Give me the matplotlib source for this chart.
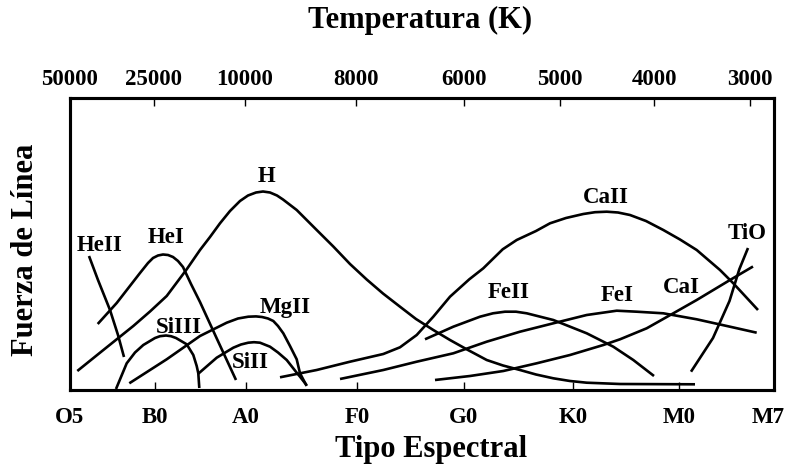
import numpy as np
import matplotlib
matplotlib.use("Agg")
import matplotlib.pyplot as plt
from matplotlib.transforms import ScaledTranslation

plt.rcParams['font.family'] = ['Liberation Serif', 'DejaVu Serif']
plt.rcParams['font.weight'] = 'bold'

# espectral (eje inferior) y temperatura (eje superior)
tipos = ["O5", "B0", "A0", "F0", "G0", "K0", "M0", "M7"]
tipos_pos = [0, 85, 176, 287, 394, 503, 609, 704]
temps = ["50000", "25000", "10000", "8000", "6000", "5000", "4000", "3000"]
temps_pos = [0, 84, 175, 286, 394, 490, 584, 680]

# curvas de fuerza de linea
heii_x = [19, 28, 40, 48, 54]
heii_y = [134, 110, 80, 55, 33]

hei_x = [27.7, 46.7, 70, 78, 83, 88, 93, 98, 103, 108, 113, 121, 130, 147, 166]
hei_y = [66, 87, 117, 127, 132, 134.5, 135.5, 135, 133, 129, 123, 106, 88, 51, 10]

h_x = [7.3, 30, 63.3, 80, 96.7, 116.7, 130, 140, 150, 160, 170, 178, 186, 193,
       200, 207, 213, 226.7, 246.7, 263.3, 280, 296.7, 313, 330, 346, 363.3,
       380, 396.7, 416.7, 433, 450, 466, 483.3, 500, 516.7, 550, 625]
h_y = [19, 37.3, 64, 78.5, 94, 120.7, 140, 153, 166.7, 179, 189, 194.5, 197.5,
       198.5, 197.5, 194.5, 190.5, 180, 160, 143.5, 126, 110.5, 96.5, 83.3, 71,
       60, 50, 40.7, 30, 24.5, 20, 15.5, 11.7, 9, 7.3, 6, 5.7]

siiii_x = [46, 56.7, 65, 73.3, 85, 90, 96, 101, 106, 116.7, 123.3, 126.7,
           128.3, 129.3]
siiii_y = [1, 26.7, 37.5, 45, 52, 53.8, 54.5, 53.8, 52, 45.7, 35, 24, 16.7, 2]

mgii_x = [59.3, 96.7, 130, 156.7, 168, 178.3, 186, 192, 198, 203.3, 208,
          213.3, 220, 226.7, 230, 236.7]
mgii_y = [6.7, 30.7, 54, 67.3, 71.5, 73.3, 73.6, 73, 71.5, 69, 64, 56.7, 44,
          30.7, 16.7, 4]

siii_x = [128.3, 146.7, 163.3, 171, 178.3, 184, 190, 200, 208, 216.7, 226.7,
          230, 236.7]
siii_y = [16.3, 32.3, 42.3, 45.5, 47.3, 47.8, 47.3, 43.3, 37.5, 30, 17.3,
          13.3, 4.7]

caii_x = [210, 246.7, 280, 313.3, 330, 346.7, 363.3, 380, 399.3, 413.3, 432.7,
          446.7, 466, 480, 496, 513.3, 525, 536.7, 548, 560, 576, 593.3, 610,
          626.7, 650, 663.3, 688]
caii_y = [12.7, 20, 28.3, 36, 42.7, 55, 73.3, 93.3, 110.7, 121.7, 140.7,
          150, 159, 166.7, 172, 176, 177.8, 178.3, 177.5, 175, 169, 160, 150.5,
          140, 120, 106.7, 80]

feii_x = [355, 383.3, 410, 423, 435, 446, 456.7, 483.3, 516.7, 543.3, 563.3, 584]
feii_y = [50.7, 63.3, 73.3, 76.7, 78.3, 78.3, 76.7, 70, 56.7, 43.3, 30, 14]

fei_x = [270, 313.3, 346.7, 383.3, 416.7, 450, 483.3, 516.7, 546.7, 566.7,
         593.3, 626.7, 660, 686.7]
fei_y = [11, 20, 28.3, 36.7, 48.3, 58.3, 66.7, 75, 79.3, 78.3, 76.7, 70.7,
         63.3, 57.3]

cai_x = [365, 400, 433.3, 466.7, 500, 533.3, 550, 576.7, 603.3, 626.7, 660, 683]
cai_y = [10, 14, 19, 26.7, 35, 45, 50.7, 61.7, 76.7, 90, 110, 123.5]

tio_x = [621, 643, 659.5, 669.3, 678]
tio_y = [18.3, 52, 89, 120.7, 142]

curvas = [(heii_x, heii_y), (hei_x, hei_y), (h_x, h_y), (siiii_x, siiii_y),
          (mgii_x, mgii_y), (siii_x, siii_y), (caii_x, caii_y),
          (feii_x, feii_y), (fei_x, fei_y), (cai_x, cai_y), (tio_x, tio_y)]

etiquetas = ["HeII", "HeI", "H", "SiIII", "MgII", "SiII", "CaII", "TiO",
             "FeII", "FeI", "CaI"]
etiq_x = [30, 96.5, 197, 109, 215, 180.5, 536, 677.5, 439, 547.5, 611.3]
etiq_y = [139, 147, 208.3, 56.7, 77, 22.3, 186.7, 150.7, 91.7, 89.3, 97.3]

fig = plt.figure(figsize=(7.86, 4.66), dpi=100)
ax = fig.add_axes([70/786, 1-390/466, 704/786, 292/466])

for cx, cy in curvas:
    ax.plot(cx, cy, color='black', lw=1.9, solid_capstyle='butt',
            solid_joinstyle='round')

for t, x, y in zip(etiquetas, etiq_x, etiq_y):
    ax.text(x, y, t, ha='center', va='baseline', fontsize=16.5,
            fontweight='bold')

ax.set_xlim(0, 704)
ax.set_ylim(0, 292)
ax.set_yticks([])
ax.set_xticks(tipos_pos)
ax.set_xticklabels(tipos, fontsize=16.5, fontweight='bold')
ax.tick_params(axis='x', direction='in', length=6, width=1, pad=12)
for s in ax.spines.values():
    s.set_linewidth(2.2)
# M7 un poco hacia dentro para que no se corte
ultimo = ax.get_xticklabels()[-1]
ultimo.set_transform(ultimo.get_transform() +
                     ScaledTranslation(-4/72, 0, fig.dpi_scale_trans))

ax2 = ax.twiny()
ax2.set_xlim(0, 704)
ax2.set_xticks(temps_pos)
ax2.set_xticklabels(temps, fontsize=16.5, fontweight='bold')
ax2.tick_params(axis='x', direction='in', length=6, width=1, pad=6)
for s in ax2.spines.values():
    s.set_linewidth(2.2)

fig.text(420/786, 1-20/466, "Temperatura (K)", ha='center', va='center',
         fontsize=22, fontweight='bold')
fig.text(431/786, 1-450/466, "Tipo Espectral", ha='center', va='center',
         fontsize=22, fontweight='bold')
fig.text(26/786, 1-250/466, "Fuerza de Línea", ha='center', va='center',
         rotation=90, fontsize=22, fontweight='bold')

fig.savefig("out.png", dpi=100)
